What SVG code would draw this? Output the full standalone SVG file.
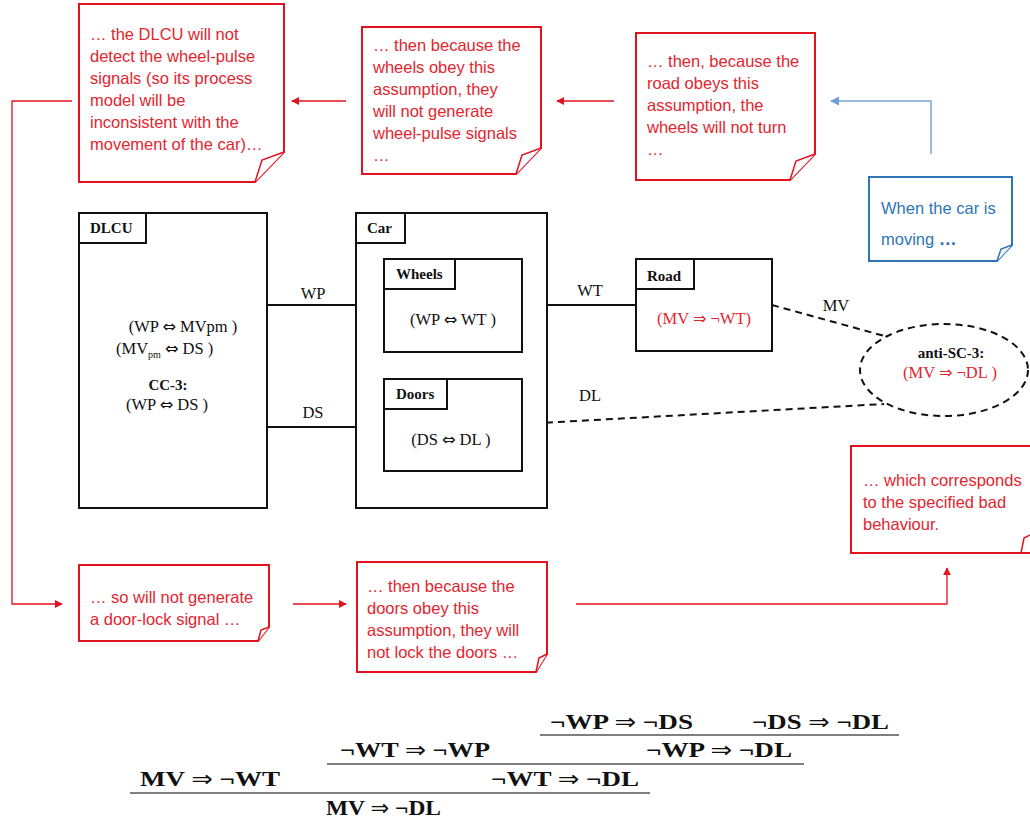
<svg xmlns="http://www.w3.org/2000/svg" width="1030" height="823" viewBox="0 0 1030 823">
<style>
.note{fill:#fff;stroke:#e3121f;stroke-width:2}
.curl{fill:#fff;stroke:#e3121f;stroke-width:1.5}
.bnote{fill:#fff;stroke:#2e75b6;stroke-width:2}
.bcurl{fill:#fff;stroke:#2e75b6;stroke-width:1.5}
.nt{font-family:"Liberation Sans",Arial,sans-serif;font-size:16.5px;fill:#e3252f}
.bt{font-family:"Liberation Sans",Arial,sans-serif;font-size:16.5px;fill:#2e75b6}
.box{fill:#fff;stroke:#111;stroke-width:2}
.tab{fill:#fff;stroke:#111;stroke-width:2}
.lbl{font-family:"Liberation Serif","Times New Roman",serif;font-size:15px;font-weight:bold;fill:#111}
.tx{font-family:"Liberation Serif","Times New Roman",serif;font-size:16.5px;fill:#111}
.rtx{font-family:"Liberation Serif","Times New Roman",serif;font-size:16.5px;fill:#e3252f}
.ar{font-family:"DejaVu Sans",sans-serif;font-size:16px}
.ln{stroke:#111;stroke-width:2;fill:none}
.dash{stroke:#111;stroke-width:2;fill:none;stroke-dasharray:7,5}
.rl{stroke:#e3121f;stroke-width:1.3;fill:none}
.bl{stroke:#7aa7d6;stroke-width:1.5;fill:none}
.pf{font-family:"Liberation Serif","Times New Roman",serif;font-size:22px;font-weight:bold;fill:#111}
.pa{font-family:"DejaVu Sans",sans-serif;font-weight:normal;font-size:21px}
.pl{stroke:#555;stroke-width:1.5}
</style>
<defs>
<marker id="ra" viewBox="0 0 10 10" refX="9" refY="5" markerWidth="8" markerHeight="8" markerUnits="userSpaceOnUse" orient="auto"><path d="M0,0 L10,5 L0,10 z" fill="#e3121f"/></marker>
<marker id="ba" viewBox="0 0 10 10" refX="9" refY="5" markerWidth="9" markerHeight="9" markerUnits="userSpaceOnUse" orient="auto"><path d="M0,0 L10,5 L0,10 z" fill="#6f9fd2"/></marker>
</defs>

<g id="connectors">
<path class="rl" d="M346,101 H292" marker-end="url(#ra)"/>
<path class="rl" d="M614,101 H557" marker-end="url(#ra)"/>
<path class="rl" d="M72,101 H12 V604 H62" marker-end="url(#ra)"/>
<path class="rl" d="M293,604 H346" marker-end="url(#ra)"/>
<path class="rl" d="M576,604 H947 V568" marker-end="url(#ra)"/>
<path class="bl" d="M931,154 V101 H831" marker-end="url(#ba)"/>
<path class="ln" d="M267,305 H384"/>
<path class="ln" d="M267,427 H384"/>
<path class="ln" d="M522,305 H636"/>
<path class="dash" d="M772,305 L888,337"/>
<path class="dash" d="M522,424 L884,404"/>
<text class="tx" x="313" y="299" text-anchor="middle">WP</text>
<text class="tx" x="313" y="418" text-anchor="middle">DS</text>
<text class="tx" x="590" y="296" text-anchor="middle">WT</text>
<text class="tx" x="836" y="311" text-anchor="middle">MV</text>
<text class="tx" x="590" y="401" text-anchor="middle">DL</text>
</g>

<g id="note-dlcu">
<path class="note" d="M79,4 H284 V152 L255,182 H79 Z"/>
<path class="curl" d="M284,152 L262,160 L255,182"/>
<text class="nt" x="90" y="40">… the DLCU will not</text>
<text class="nt" x="90" y="62">detect the wheel-pulse</text>
<text class="nt" x="90" y="84">signals (so its process</text>
<text class="nt" x="90" y="106">model will be</text>
<text class="nt" x="90" y="128">inconsistent with the</text>
<text class="nt" x="90" y="150">movement of the car)…</text>
</g>

<g id="note-wheels">
<path class="note" d="M362,27 H541 V148 L516,174 H362 Z"/>
<path class="curl" d="M541,148 L522,155 L516,174"/>
<text class="nt" x="373" y="51">… then because the</text>
<text class="nt" x="373" y="73">wheels obey this</text>
<text class="nt" x="373" y="95">assumption, they</text>
<text class="nt" x="373" y="117">will not generate</text>
<text class="nt" x="373" y="139">wheel-pulse signals</text>
<text class="nt" x="373" y="161">…</text>
</g>

<g id="note-road">
<path class="note" d="M636,33 H815 V154 L790,180 H636 Z"/>
<path class="curl" d="M815,154 L796,161 L790,180"/>
<text class="nt" x="647" y="67">… then, because the</text>
<text class="nt" x="647" y="89">road obeys this</text>
<text class="nt" x="647" y="111">assumption, the</text>
<text class="nt" x="647" y="133">wheels will not turn</text>
<text class="nt" x="647" y="155">…</text>
</g>

<g id="note-moving">
<path class="bnote" d="M869,177 H1012 V245 L997,261 H869 Z"/>
<path class="bcurl" d="M1012,245 L1001,249 L997,261"/>
<text class="bt" x="881" y="214">When the car is</text>
<text class="bt" x="881" y="245">moving <tspan font-weight="bold" font-size="18">…</tspan></text>
</g>

<g id="dlcu">
<rect class="box" x="79" y="213" width="188" height="295"/>
<rect class="tab" x="79" y="213" width="67" height="30"/>
<text class="lbl" x="90" y="233">DLCU</text>
<text class="tx" x="183" y="332" text-anchor="middle">(WP  <tspan class="ar">⇔</tspan> MVpm )</text>
<text class="tx" x="116" y="354">(MV<tspan font-size="10" dy="4">pm</tspan><tspan dy="-4"> <tspan class="ar">⇔</tspan> DS )</tspan></text>
<text class="lbl" x="168" y="390" text-anchor="middle" font-size="16">CC-3:</text>
<text class="tx" x="126" y="410">(WP <tspan class="ar">⇔</tspan> DS )</text>
</g>

<g id="car">
<rect class="box" x="356" y="213" width="191" height="295"/>
<rect class="tab" x="356" y="213" width="49" height="30"/>
<text class="lbl" x="367" y="233">Car</text>
</g>

<g id="wheels">
<rect class="box" x="384" y="259" width="138" height="93"/>
<rect class="tab" x="384" y="259" width="71" height="30"/>
<text class="lbl" x="396" y="279">Wheels</text>
<text class="tx" x="453" y="325" text-anchor="middle">(WP  <tspan class="ar">⇔</tspan>  WT )</text>
</g>

<g id="doors">
<rect class="box" x="384" y="379" width="138" height="92"/>
<rect class="tab" x="384" y="379" width="63" height="30"/>
<text class="lbl" x="396" y="399">Doors</text>
<text class="tx" x="451" y="445" text-anchor="middle">(DS  <tspan class="ar">⇔</tspan>  DL )</text>
</g>

<g id="road">
<rect class="box" x="636" y="259" width="136" height="92"/>
<rect class="tab" x="636" y="259" width="58" height="30"/>
<text class="lbl" x="647" y="281">Road</text>
<text class="rtx" x="704" y="324" text-anchor="middle">(MV <tspan class="ar">⇒</tspan> ¬WT)</text>
</g>

<g id="anti-sc-3">
<ellipse class="dash" cx="944" cy="370" rx="84" ry="46"/>
<text class="lbl" x="951" y="358" text-anchor="middle">anti-SC-3:</text>
<text class="rtx" x="950" y="378" text-anchor="middle">(MV <tspan class="ar">⇒</tspan> ¬DL )</text>
</g>

<g id="note-bad">
<path class="note" d="M851,446 H1032 V553 H851 Z"/>
<path class="curl" d="M1032,534 L1024,538 L1021,553"/>
<text class="nt" x="863" y="486">… which corresponds</text>
<text class="nt" x="863" y="508">to the specified bad</text>
<text class="nt" x="863" y="530">behaviour.</text>
</g>

<g id="note-doorlock">
<path class="note" d="M79,565 H269 V627 L258,641 H79 Z"/>
<path class="curl" d="M269,627 L261,630 L258,641"/>
<text class="nt" x="90" y="603">… so will not generate</text>
<text class="nt" x="90" y="625">a door-lock signal …</text>
</g>

<g id="note-doors">
<path class="note" d="M357,562 H547 V654 L536,672 H357 Z"/>
<path class="curl" d="M547,654 L539,658 L536,672"/>
<text class="nt" x="367" y="592">… then because the</text>
<text class="nt" x="367" y="614">doors obey this</text>
<text class="nt" x="367" y="636">assumption, they will</text>
<text class="nt" x="367" y="658">not lock the doors …</text>
</g>

<g id="proof">
<text class="pf" x="550" y="729" textLength="143" lengthAdjust="spacingAndGlyphs">¬WP <tspan class="pa">⇒</tspan> ¬DS</text>
<text class="pf" x="752" y="729" textLength="137" lengthAdjust="spacingAndGlyphs">¬DS <tspan class="pa">⇒</tspan> ¬DL</text>
<line class="pl" x1="540" y1="735" x2="899" y2="735"/>
<text class="pf" x="340" y="757" textLength="150" lengthAdjust="spacingAndGlyphs">¬WT <tspan class="pa">⇒</tspan> ¬WP</text>
<text class="pf" x="646" y="757" textLength="146" lengthAdjust="spacingAndGlyphs">¬WP <tspan class="pa">⇒</tspan> ¬DL</text>
<line class="pl" x1="327" y1="764" x2="804" y2="764"/>
<text class="pf" x="140" y="786" textLength="140" lengthAdjust="spacingAndGlyphs">MV <tspan class="pa">⇒</tspan> ¬WT</text>
<text class="pf" x="491" y="786" textLength="148" lengthAdjust="spacingAndGlyphs">¬WT <tspan class="pa">⇒</tspan> ¬DL</text>
<line class="pl" x1="130" y1="793" x2="650" y2="793"/>
<text class="pf" x="326" y="815" textLength="115" lengthAdjust="spacingAndGlyphs">MV <tspan class="pa">⇒</tspan> ¬DL</text>
</g>
</svg>
